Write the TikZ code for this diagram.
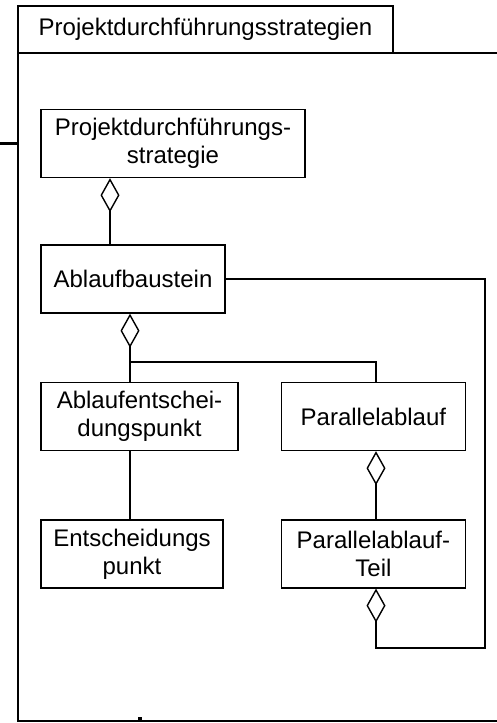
\documentclass[tikz,border=0pt]{standalone}
\usepackage{fontspec}
\setmainfont{Liberation Sans}
\usetikzlibrary{arrows.meta, positioning}

\begin{document}
\begin{tikzpicture}[x=1pt, y=-1pt,
            font=\fontsize{24}{28}\selectfont,
            block/.style={draw,line width=1.4pt,minimum height=68pt,inner sep=0pt,align=center},
            tab/.style={draw,line width=2pt,outer sep=0pt,minimum width=375pt,minimum height=47pt,inner sep=0pt},
            link/.style={line width=1.4pt},
            agg/.style={line width=1.4pt,-{Diamond[open,length=34pt,width=19pt,line width=1.4pt]}}]

            \useasboundingbox (0,0) rectangle (497,723);

            % Package frame with tab
            \node[tab] (title) at (205.5,29.5) {Projektdurchführungsstrategien};
            \draw[line width=2.6pt] (title.south west) -- (18,721) -- (497,721);
            \draw[line width=1.6pt] (title.south east) -- (497,53);
            \coordinate (ext) at (0,143);
            \draw[line width=3pt] (ext) -- (ext -| title.west);
            \fill (138,717) rectangle (142,720);

            % Columns for the connectors
            \coordinate (d1) at (110,0);
            \coordinate (d2) at (130,0);
            \coordinate (d4) at (376,0);
            \coordinate (fork) at (130,362);
            \coordinate (loop) at (485,648);

            % Classes
            \node[block,minimum width=264pt] (strat) at (173,143.5) {Projektdurchführungs-\\strategie};
            \node[block,minimum width=184pt] (abl) at (133,279) {Ablaufbaustein};
            \node[block,minimum width=197pt] (aep) at (139.5,416.5) {Ablaufentschei-\\dungspunkt};
            \node[block,minimum width=184pt,right=42pt of aep] (par) {Parallelablauf};
            \node[block,minimum width=182pt,anchor=north west] (ep) at ([yshift=-68pt]aep.south west) {Entscheidungs\\punkt};
            \node[block,minimum width=184pt,below=68pt of par] (teil) {Parallelablauf-\\Teil};

            % Aggregations
            \draw[agg] (abl.north -| d1) -- (strat.south -| d1);
            \draw[agg] (par.north -| d4) |- (fork) -- (abl.south -| d2);
            \draw[link] (aep.north -| d2) -- (fork);
            \draw[link] (aep.south -| d2) -- (ep.north -| d2);
            \draw[agg] (teil.north -| d4) -- (par.south -| d4);
            \draw[agg] (abl.east) -| (loop) -| (teil.south -| d4);
\end{tikzpicture}
\end{document}
